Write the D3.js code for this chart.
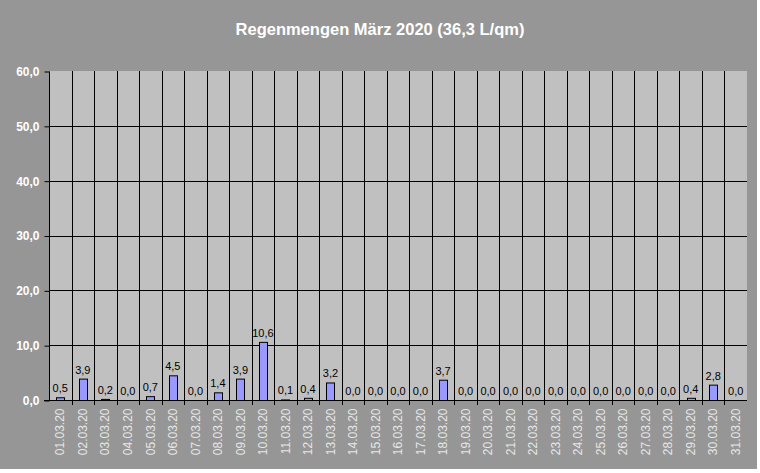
<!DOCTYPE html>
<html>
<head>
<meta charset="utf-8">
<script src="https://cdn.jsdelivr.net/npm/d3@7"></script>
<style>
  body { margin: 0; background: #fff; }
  text { font-family: "Liberation Sans", Arial, sans-serif; }
</style>
</head>
<body>
<svg id="chart"></svg>
<script>
// Tagesdaten März 2020
const days = ["01.03.20","02.03.20","03.03.20","04.03.20","05.03.20","06.03.20","07.03.20","08.03.20",
  "09.03.20","10.03.20","11.03.20","12.03.20","13.03.20","14.03.20","15.03.20","16.03.20","17.03.20",
  "18.03.20","19.03.20","20.03.20","21.03.20","22.03.20","23.03.20","24.03.20","25.03.20","26.03.20",
  "27.03.20","28.03.20","29.03.20","30.03.20","31.03.20"];
const rain = [0.5,3.9,0.2,0,0.7,4.5,0,1.4,3.9,10.6,0.1,0.4,3.2,0,0,0,0,3.7,0,0,0,0,0,0,0,0,0,0,0.4,2.8,0];
const yTicks = [0,10,20,30,40,50,60];
const title = "Regenmengen März 2020 (36,3 L/qm)";

var width = 760, height = 473;
var margin = {top: 71, right: 13, bottom: 73, left: 49};
var fmt = d => d.toFixed(1).replace(".", ",");

var svg = d3.select("#chart").attr("width", width).attr("height", height);

// Hintergrund
svg.append("rect").attr("x", 0).attr("y", 0).attr("width", 757).attr("height", 469).attr("fill", "#969696");

var x = d3.scaleBand().domain(days).range([margin.left, width - margin.right]);
var y = d3.scaleLinear().domain([0, 60]).range([height - margin.bottom, margin.top]);

// Zeichenfläche
svg.append("rect")
  .attr("x", x.range()[0]).attr("y", y(60))
  .attr("width", x.range()[1] - x.range()[0]).attr("height", y(0) - y(60))
  .attr("fill", "#c0c0c0");

// horizontale Gitterlinien
svg.append("g").selectAll("line").data(yTicks.filter(d => d > 0 && d < 60)).enter().append("line")
  .attr("x1", x.range()[0]).attr("x2", x.range()[1])
  .attr("y1", d => Math.round(y(d)) + 0.5).attr("y2", d => Math.round(y(d)) + 0.5)
  .attr("stroke", "#000").attr("stroke-width", 1);

// vertikale Gitterlinien + Ticks
var bounds = days.slice(1).map(d => x(d));
svg.append("g").selectAll("line").data(bounds).enter().append("line")
  .attr("x1", d => Math.round(d) + 0.5).attr("x2", d => Math.round(d) + 0.5)
  .attr("y1", y(60)).attr("y2", y(0) + 5)
  .attr("stroke", "#000").attr("stroke-width", 1);

// Balken
var bw = 8;
svg.append("g").selectAll("rect").data(rain).enter().append("rect")
  .attr("x", (d, i) => Math.round(x(days[i]) + x.bandwidth() / 2 - bw / 2) + 0.5)
  .attr("y", d => y(d) + 0.5)
  .attr("width", bw)
  .attr("height", d => Math.max(0, y(0) - y(d)))
  .attr("fill", "#9999ff").attr("stroke", "#000").attr("stroke-width", 1)
  .style("display", d => d > 0 ? null : "none");

// Werte
svg.append("g").selectAll("text").data(rain).enter().append("text")
  .attr("x", (d, i) => x(days[i]) + x.bandwidth() / 2)
  .attr("y", d => y(d) - 5)
  .attr("text-anchor", "middle")
  .attr("font-size", 11).attr("fill", "#000")
  .text(fmt);

// Y-Achse
var yAxis = d3.axisLeft(y).tickValues(yTicks).tickSize(5).tickFormat(fmt);
var ya = svg.append("g").attr("transform", "translate(" + (margin.left + 0.5) + ",0.5)").call(yAxis);
ya.select(".domain").attr("stroke", "#000").attr("d", "M0," + y(60) + "V" + y(0));
ya.selectAll(".tick line").attr("stroke", "#000");
ya.selectAll(".tick text").attr("fill", "#fff").attr("font-weight", "bold")
  .attr("font-size", 12).attr("x", -10).attr("font-family", "Liberation Sans, Arial, sans-serif");

// X-Achse
var xAxis = d3.axisBottom(x).tickSize(0).tickPadding(0);
var xa = svg.append("g").attr("transform", "translate(0," + (y(0) + 0.5) + ")").call(xAxis);
xa.select(".domain").attr("stroke", "#000").attr("d", "M" + (x.range()[0] - 5) + ",0H" + x.range()[1]);
xa.selectAll(".tick text")
  .attr("fill", "#e6e6e6").attr("font-size", 12)
  .attr("font-family", "Liberation Sans, Arial, sans-serif")
  .attr("transform", "rotate(-90)")
  .attr("text-anchor", "end")
  .attr("dy", "0.35em")
  .attr("x", -8).attr("y", 0);

// Titel
svg.append("text")
  .attr("x", 380).attr("y", 35)
  .attr("text-anchor", "middle")
  .attr("font-size", 16.5).attr("font-weight", "bold").attr("fill", "#fff")
  .text(title);
</script>
</body>
</html>
